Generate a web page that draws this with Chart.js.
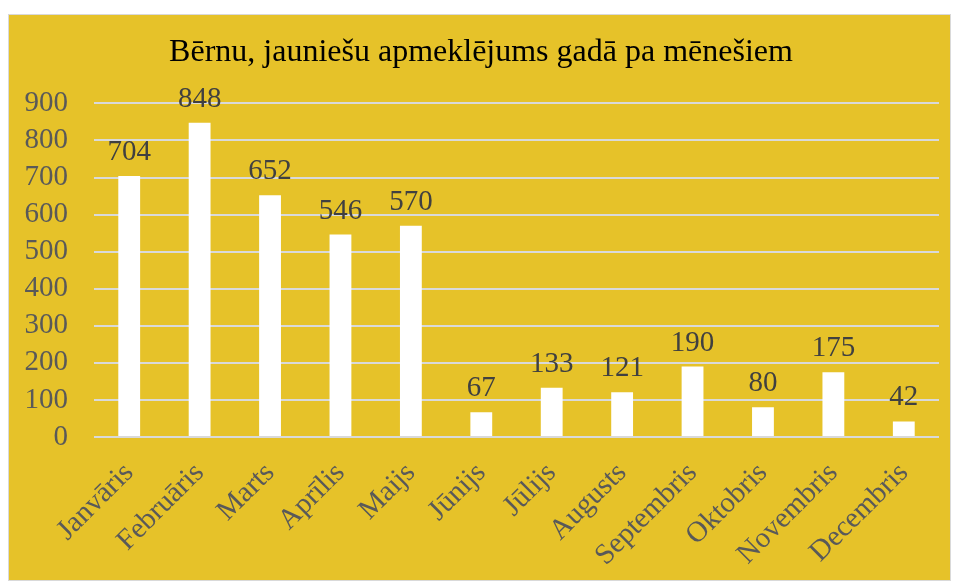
<!DOCTYPE html>
<html>
<head>
<meta charset="utf-8">
<script src="https://cdn.jsdelivr.net/npm/chart.js@4.4.1/dist/chart.umd.min.js"></script>
<style>
  html, body { margin: 0; padding: 0; background: #ffffff; }
  #wrap {
    position: absolute; left: 8px; top: 14px;
    width: 941px; height: 565px;
    background: #e6c229;
    border: 1px solid #d9d9d9;
  }
</style>
</head>
<body>
<div id="wrap"><canvas id="c"></canvas></div>
<script>
// mēneši un apmeklējumu skaits
const months = ['Janvāris', 'Februāris', 'Marts', 'Aprīlis', 'Maijs', 'Jūnijs',
  'Jūlijs', 'Augusts', 'Septembris', 'Oktobris', 'Novembris', 'Decembris'];
const visits = [704, 848, 652, 546, 570, 67, 133, 121, 190, 80, 175, 42];
const yTicks = [0, 100, 200, 300, 400, 500, 600, 700, 800, 900];

const serif = '"Liberation Serif", "Times New Roman", serif';

// vērtības virs stabiņiem
const valueLabels = {
  id: 'valueLabels',
  afterDatasetsDraw(chart) {
    const ctx = chart.ctx;
    const meta = chart.getDatasetMeta(0);
    ctx.save();
    ctx.font = '29px ' + serif;
    ctx.fillStyle = '#404040';
    ctx.textAlign = 'center';
    ctx.textBaseline = 'alphabetic';
    meta.data.forEach((bar, i) => {
      ctx.fillText(String(visits[i]), bar.x, bar.y - 16);
    });
    ctx.restore();
  }
};

new Chart(document.getElementById('c'), {
  type: 'bar',
  data: {
    labels: months,
    datasets: [{
      data: visits,
      backgroundColor: '#ffffff',
      borderWidth: 0,
      barPercentage: 0.31,
      categoryPercentage: 1
    }]
  },
  options: {
    responsive: true,
    maintainAspectRatio: false,
    animation: false,
    layout: { padding: { left: 14, right: 11, top: 0, bottom: 0 } },
    plugins: {
      legend: { display: false },
      tooltip: { enabled: false },
      title: {
        display: true,
        text: 'Bērnu, jauniešu apmeklējums gadā pa mēnešiem',
        color: '#000000',
        font: { family: serif, size: 32, weight: 'normal', lineHeight: 1.2 },
        padding: { top: 18, bottom: 32 }
      }
    },
    scales: {
      x: {
        grid: { display: false },
        border: { display: false },
        ticks: {
          color: '#595959',
          font: { family: serif, size: 29 },
          minRotation: 45,
          maxRotation: 45,
          autoSkip: false,
          padding: 11
        },
        afterFit(scale) { scale.height = 143; }
      },
      y: {
        min: 0,
        max: 900,
        afterBuildTicks(scale) { scale.ticks = yTicks.map(v => ({ value: v })); },
        grid: { color: '#d9d9d9', lineWidth: 2, drawTicks: false },
        border: { display: false },
        ticks: {
          color: '#595959',
          font: { family: serif, size: 29 },
          autoSkip: false,
          padding: 26
        },
        afterFit(scale) { scale.width = 71; }
      }
    }
  },
  plugins: [valueLabels]
});
</script>
</body>
</html>
